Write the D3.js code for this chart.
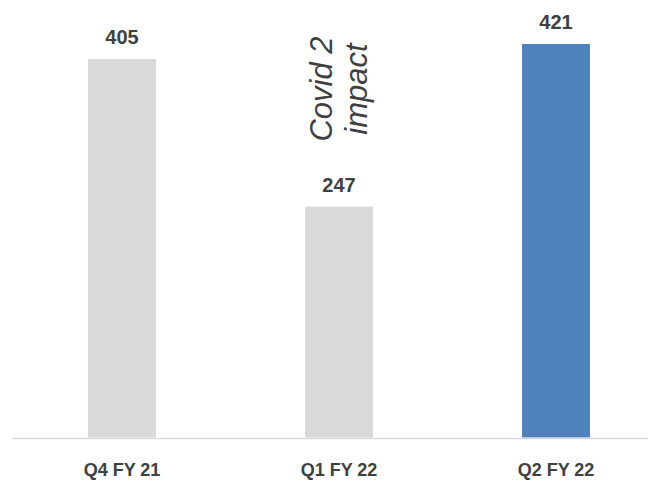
<!DOCTYPE html>
<html>
<head>
<meta charset="utf-8">
<script src="https://cdn.jsdelivr.net/npm/d3@7"></script>
<style>
  html, body { margin: 0; padding: 0; background: #ffffff; }
  svg { display: block; }
</style>
</head>
<body>
<script>
const categories = ["Q4 FY 21", "Q1 FY 22", "Q2 FY 22"];
const values = [405, 247, 421];
const barColors = ["#d9d9d9", "#d9d9d9", "#4f81bd"];
const annotationLines = ["Covid 2", "impact"];

const W = 648, H = 482;
const svg = d3.select("body").append("svg").attr("width", W).attr("height", H);

const labelFont = "'Liberation Sans', Arial, sans-serif";

const x = d3.scaleBand().domain(categories).range([13.5, 664.5]).paddingInner(0.687).paddingOuter(0.3435);
const y = d3.scaleLinear().domain([0, 421]).range([437.5, 44]);

const data = categories.map((c, i) => ({ c, v: values[i], color: barColors[i] }));

svg.selectAll("rect.bar").data(data).enter().append("rect")
  .attr("class", "bar")
  .attr("x", d => x(d.c))
  .attr("width", x.bandwidth())
  .attr("y", d => y(d.v))
  .attr("height", d => y(0) - y(d.v))
  .attr("fill", d => d.color);

// axis baseline
svg.append("line")
  .attr("x1", 12).attr("x2", W)
  .attr("y1", 438.5).attr("y2", 438.5)
  .attr("stroke", "#d9d9d9").attr("stroke-width", 1.5);

// value labels
svg.selectAll("text.val").data(data).enter().append("text")
  .attr("class", "val")
  .attr("x", d => x(d.c) + x.bandwidth() / 2)
  .attr("y", d => y(d.v) - 15)
  .attr("text-anchor", "middle")
  .attr("font-family", labelFont)
  .attr("font-weight", "bold")
  .attr("font-size", 20)
  .attr("fill", "#404040")
  .text(d => d.v);

// category labels
svg.selectAll("text.cat").data(data).enter().append("text")
  .attr("class", "cat")
  .attr("x", d => x(d.c) + x.bandwidth() / 2)
  .attr("y", 476)
  .attr("text-anchor", "middle")
  .attr("font-family", labelFont)
  .attr("font-weight", "bold")
  .attr("font-size", 18)
  .attr("fill", "#404040")
  .text(d => d.c);

// annotation
const ann = svg.append("text")
  .attr("transform", `translate(${x("Q1 FY 22") + x.bandwidth() / 2}, 89) rotate(-90)`)
  .attr("text-anchor", "middle")
  .attr("font-family", "'Liberation Sans', Arial, sans-serif")
  .attr("font-style", "italic")
  .attr("font-size", 31)
  .attr("fill", "#404040");
ann.selectAll("tspan").data(annotationLines).enter().append("tspan")
  .attr("x", 0)
  .attr("y", (d, i) => -7 + i * 34.5)
  .text(d => d);
</script>
</body>
</html>
